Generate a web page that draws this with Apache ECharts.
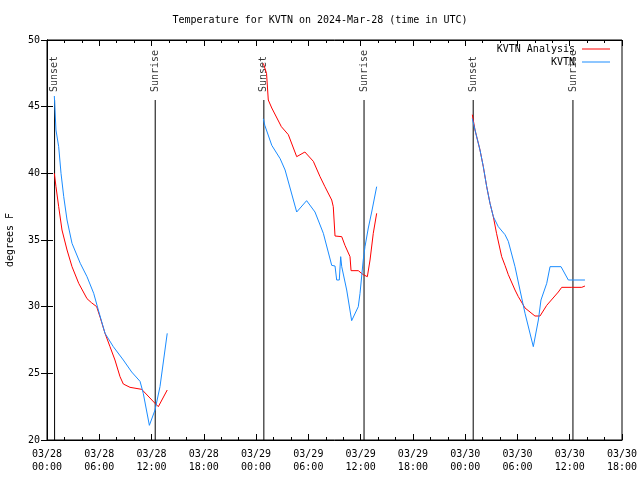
<!DOCTYPE html>
<html>
<head>
<meta charset="utf-8">
<script src="https://cdn.jsdelivr.net/npm/echarts@6/dist/echarts.min.js"></script>
<style>
html,body{margin:0;padding:0;background:#fff;}
#chart{width:640px;height:480px;}
</style>
</head>
<body>
<div id="chart"></div>
<script>
// Hours since 2024-03-28 00:00 UTC, temperature in degrees F
const analysisNight1 = [[0.84,40.0],[1.03,39.0],[1.34,37.5],[1.72,35.75],[2.30,34.25],[2.87,33.0],[3.64,31.75],[4.59,30.6],[5.1,30.3],[5.7,30.0],[6.1,29.2],[6.66,28.0],[7.23,27.0],[7.8,26.0],[8.38,24.75],[8.76,24.2],[9.53,23.95],[10.87,23.8],[12.4,22.75],[12.78,22.5],[13.8,23.75]];
const analysisNight2 = [[24.83,48.25],[25.2,47.5],[25.4,45.5],[25.8,44.9],[26.9,43.5],[27.7,42.9],[28.66,41.25],[29.6,41.6],[30.57,40.9],[31.34,39.75],[31.9,39.0],[32.68,38.0],[32.86,37.5],[33.06,35.3],[33.83,35.25],[34.2,34.6],[34.78,33.75],[34.9,32.7],[35.73,32.7],[36.3,32.4],[36.77,32.25],[37.08,33.5],[37.45,35.5],[37.84,37.0]];
const analysisNight3 = [[48.82,44.4],[49.13,43.25],[49.7,41.75],[50.08,40.5],[50.47,39.0],[50.85,37.75],[51.23,36.75],[51.6,35.5],[52.19,33.75],[52.57,33.1],[52.95,32.4],[53.72,31.25],[54.1,30.75],[54.87,29.9],[56.01,29.3],[56.59,29.3],[57.36,30.1],[58.69,31.1],[59.08,31.45],[60.23,31.45],[61.38,31.45],[61.75,31.55]];

const obsNight1 = [[0.84,45.8],[1.03,43.25],[1.34,42.0],[1.61,40.0],[1.92,38.25],[2.30,36.5],[2.87,34.75],[3.82,33.25],[4.59,32.25],[5.36,31.0],[5.89,29.75],[6.66,28.0],[7.61,27.0],[8.76,26.0],[9.72,25.1],[10.68,24.4],[11.05,23.5],[11.75,21.1],[12.4,22.25],[12.97,24.0],[13.8,28.0]];
const obsNight2 = [[24.83,44.1],[25.0,43.6],[25.8,42.1],[26.76,41.1],[27.33,40.25],[28.66,37.1],[29.8,37.95],[30.76,37.1],[31.72,35.5],[32.68,33.1],[33.06,33.05],[33.25,32.0],[33.55,32.0],[33.71,33.75],[33.83,33.0],[34.4,31.25],[34.97,28.95],[35.73,30.0],[35.93,31.0],[36.3,33.5],[36.5,34.5],[36.88,35.9],[37.27,37.1],[37.84,39.0]];
const obsNight3 = [[48.82,44.1],[49.13,43.25],[49.7,41.75],[50.08,40.5],[50.47,39.0],[50.85,37.75],[51.23,36.75],[51.8,36.0],[52.57,35.4],[52.95,34.9],[53.72,33.0],[54.29,31.25],[54.87,29.5],[55.82,27.0],[56.4,29.0],[56.7,30.5],[57.36,31.75],[57.74,33.0],[59.0,33.0],[59.84,32.0],[61.75,32.0]];

const sunEventHours = [0.87, 12.42, 24.89, 36.39, 48.92, 60.37];
const sunEventNames = ['Sunset','Sunrise','Sunset','Sunrise','Sunset','Sunrise'];
const sunLineTop = 45.5;
const sunLabelAt = 46.1;

const xTickDays = ['03/28','03/28','03/28','03/28','03/29','03/29','03/29','03/29','03/30','03/30','03/30','03/30'];
const xTickTimes = ['00:00','06:00','12:00','18:00','00:00','06:00','12:00','18:00','00:00','06:00','12:00','18:00'];

const FONT = 'DejaVu Sans Mono';
const RED = '#ff0000';
const BLUE = '#1a8cff';

const chart = echarts.init(document.getElementById('chart'), null, {renderer:'canvas'});

const series = [];
sunEventHours.forEach((h, i) => {
  series.push({
    type: 'line', data: [[h, 20], [h, sunLineTop]], symbol: 'none', silent: true,
    lineStyle: {color: '#000', width: 1}, z: 1, animation: false
  });
});
series.push({
  type: 'scatter', symbolSize: 0, silent: true, animation: false, z: 1,
  data: sunEventHours.map((h, i) => ({value: [h, sunLabelAt], name: sunEventNames[i]})),
  label: {show: true, formatter: p => p.name, rotate: 90, position: [0, 0],
    align: 'left', verticalAlign: 'middle', fontFamily: FONT, fontSize: 10, color: '#000'}
});
[analysisNight1, analysisNight2, analysisNight3].forEach(d => series.push({
  name: 'KVTN Analysis', type: 'line', data: d, symbol: 'none', animation: false, z: 2,
  lineStyle: {color: RED, width: 1}, itemStyle: {color: RED}
}));
[obsNight1, obsNight2, obsNight3].forEach(d => series.push({
  name: 'KVTN', type: 'line', data: d, symbol: 'none', animation: false, z: 3,
  lineStyle: {color: BLUE, width: 1}, itemStyle: {color: BLUE}
}));

const tickFmt = v => {
  const i = Math.round(v / 6);
  return xTickDays[i] + '\n' + xTickTimes[i];
};

chart.setOption({
  backgroundColor: '#fff',
  animation: false,
  title: {
    text: 'Temperature for KVTN on 2024-Mar-28 (time in UTC)',
    left: 'center', top: 10,
    textStyle: {fontFamily: FONT, fontSize: 10, fontWeight: 'normal', color: '#000'}
  },
  legend: [
    {data: ['KVTN Analysis'], right: 25, top: 39, align: 'right', icon: 'rect',
     itemWidth: 28, itemHeight: 1, itemGap: 0, selectedMode: false,
     textStyle: {fontFamily: FONT, fontSize: 10, color: '#000', padding: [0, 2, 0, 0]}},
    {data: ['KVTN'], right: 25, top: 52, align: 'right', icon: 'rect',
     itemWidth: 28, itemHeight: 1, itemGap: 0, selectedMode: false,
     textStyle: {fontFamily: FONT, fontSize: 10, color: '#000', padding: [0, 2, 0, 0]}}
  ],
  grid: {left: 47, right: 18, top: 40, bottom: 40, show: true, borderColor: '#000', borderWidth: 1,
    backgroundColor: 'transparent', containLabel: false, outerBoundsMode: 'none'},
  xAxis: [
    {type: 'value', min: 0, max: 66, interval: 6, position: 'bottom',
     axisLine: {show: true, lineStyle: {color: '#000'}},
     axisTick: {show: true, inside: true, length: 6, lineStyle: {color: '#000'}},
     minorTick: {show: true, splitNumber: 3, length: 3, lineStyle: {color: '#000'}},
     splitLine: {show: false},
     axisLabel: {formatter: tickFmt, fontFamily: FONT, fontSize: 10, color: '#000', lineHeight: 13, margin: 8, showMinLabel: true, showMaxLabel: true}},
    {type: 'value', min: 0, max: 66, interval: 6, position: 'top',
     axisLine: {show: true, lineStyle: {color: '#000'}},
     axisTick: {show: true, inside: true, length: 6, lineStyle: {color: '#000'}},
     minorTick: {show: true, splitNumber: 3, length: 3, lineStyle: {color: '#000'}},
     splitLine: {show: false}, axisLabel: {show: false}}
  ],
  yAxis: [
    {type: 'value', min: 20, max: 50, interval: 5, position: 'left',
     name: 'degrees F', nameLocation: 'middle', nameGap: 32, nameRotate: 90,
     nameTextStyle: {fontFamily: FONT, fontSize: 10, color: '#000'},
     axisLine: {show: true, lineStyle: {color: '#000'}},
     axisTick: {show: true, inside: true, length: 6, lineStyle: {color: '#000'}},
     splitLine: {show: false},
     axisLabel: {fontFamily: FONT, fontSize: 10, color: '#000', margin: 7}},
    {type: 'value', min: 20, max: 50, interval: 5, position: 'right',
     axisLine: {show: true, lineStyle: {color: '#000'}},
     axisTick: {show: true, inside: true, length: 6, lineStyle: {color: '#000'}},
     splitLine: {show: false}, axisLabel: {show: false}}
  ],
  series: series
});
</script>
</body>
</html>
